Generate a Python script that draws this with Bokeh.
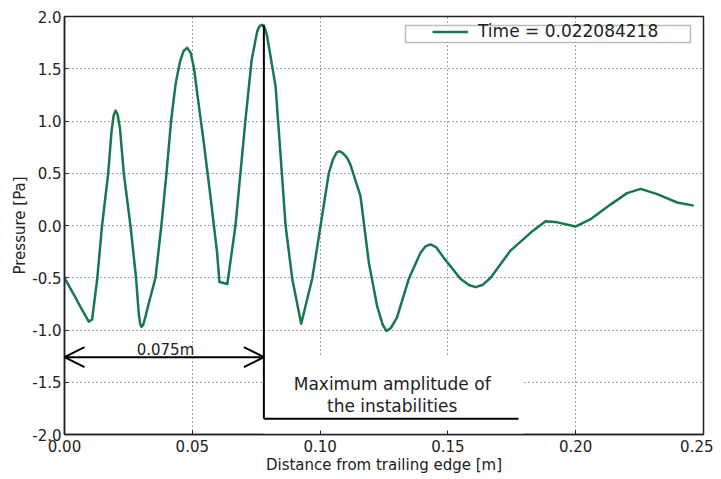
from bokeh.plotting import figure
from bokeh.models import (Range1d, FixedTicker, NumeralTickFormatter,
                          Arrow, OpenHead, Legend, LegendItem, BoxAnnotation)
from bokeh.core.properties import value
from bokeh.embed import file_html
from bokeh.resources import INLINE

# ---- data ----
distance = [0.0, 0.0043, 0.0074, 0.0095, 0.0108, 0.0128, 0.0147, 0.0171, 0.0184,
            0.0192, 0.0200, 0.0208, 0.0217, 0.0232, 0.0258, 0.0280, 0.0290, 0.0296,
            0.0301, 0.0308, 0.0316, 0.0326, 0.0356, 0.0379, 0.0399, 0.0417, 0.0435,
            0.0452, 0.0466, 0.0480, 0.0494, 0.0507, 0.0519, 0.0545, 0.0571, 0.0597,
            0.0606, 0.0637, 0.0669, 0.0708, 0.0732, 0.0754, 0.0764, 0.0773, 0.0784,
            0.0792, 0.0826, 0.0865, 0.0891, 0.0926, 0.0969, 0.1002, 0.1034, 0.1050,
            0.1065, 0.1077, 0.1090, 0.1105, 0.1119, 0.1158, 0.1191, 0.1223, 0.1245,
            0.1260, 0.1277, 0.1301, 0.1347, 0.1393, 0.1412, 0.1432, 0.1455, 0.1484,
            0.1549, 0.1582, 0.1608, 0.1635, 0.1667, 0.1745, 0.1823, 0.1882, 0.1928,
            0.1999, 0.2058, 0.2136, 0.2201, 0.2254, 0.2319, 0.2397, 0.2462]
pressure = [-0.50, -0.69, -0.83, -0.92, -0.90, -0.51, 0.00, 0.50, 0.90,
            1.05, 1.10, 1.06, 0.93, 0.50, 0.00, -0.50, -0.83, -0.94,
            -0.97, -0.95, -0.88, -0.78, -0.50, 0.00, 0.50, 1.00, 1.36,
            1.57, 1.67, 1.70, 1.65, 1.50, 1.27, 0.79, 0.28, -0.26,
            -0.54, -0.56, 0.00, 1.01, 1.58, 1.86, 1.91, 1.92, 1.89,
            1.82, 1.33, 0.00, -0.51, -0.94, -0.51, 0.00, 0.50, 0.63,
            0.70, 0.71, 0.69, 0.65, 0.58, 0.28, -0.36, -0.77, -0.95,
            -1.01, -0.98, -0.88, -0.51, -0.26, -0.20, -0.18, -0.21, -0.31,
            -0.51, -0.57, -0.59, -0.57, -0.50, -0.24, -0.07, 0.04, 0.03,
            -0.01, 0.06, 0.20, 0.31, 0.35, 0.30, 0.22, 0.19]
legend_label = "Time = 0.022084218"
x_ticks = [0.0, 0.05, 0.10, 0.15, 0.20, 0.25]
y_ticks = [-2.0, -1.5, -1.0, -0.5, 0.0, 0.5, 1.0, 1.5, 2.0]

# annotation values
span_x = 0.078           # position of the maximum
span_label = "0.075m"
arrow_y = -1.26
box_y = -1.85
box_right = 0.1776
note_lines = ["Maximum amplitude of", "the instabilities"]

FONT = "DejaVu Sans"
GREEN = "#17784c"
TXT = "#222222"

p = figure(width=713, height=476, output_backend="svg", toolbar_location=None,
           x_range=Range1d(0, 0.25), y_range=Range1d(-2.0, 2.0),
           min_border_left=64, min_border_right=10, min_border_top=16,
           min_border_bottom=40, background_fill_color="white",
           border_fill_color="white", outline_line_color="#222222",
           outline_line_width=1.5)

for ax in (p.xaxis[0], p.yaxis[0]):
    ax.major_tick_in = 4
    ax.major_tick_out = 0
    ax.minor_tick_in = 0
    ax.minor_tick_out = 0
    ax.axis_line_color = "#222222"
    ax.axis_line_width = 1.5
    ax.major_tick_line_color = "#222222"
    ax.major_label_text_font = FONT
    ax.major_label_text_font_size = "15px"
    ax.major_label_text_color = TXT
    ax.axis_label_text_font = FONT
    ax.axis_label_text_font_size = "15px"
    ax.axis_label_text_font_style = "normal"
    ax.axis_label_text_color = TXT

p.xaxis.ticker = FixedTicker(ticks=x_ticks)
p.yaxis.ticker = FixedTicker(ticks=y_ticks)
p.xaxis.formatter = NumeralTickFormatter(format="0.00")
p.yaxis.formatter = NumeralTickFormatter(format="0.0")
p.xaxis.axis_label = "Distance from trailing edge [m]"
p.yaxis.axis_label = "Pressure [Pa]"
p.xaxis.major_label_standoff = 5
p.xaxis.axis_label_standoff = 1
p.yaxis.major_label_standoff = 3
p.yaxis.axis_label_standoff = 0

p.xgrid.ticker = FixedTicker(ticks=x_ticks)
p.ygrid.ticker = FixedTicker(ticks=y_ticks)
for g in (p.xgrid[0], p.ygrid[0]):
    g.grid_line_color = "#444444"
    g.grid_line_dash = "1 3"
    g.grid_line_width = 1

# white area behind the note (hides grid there)
p.quad(left=[span_x], right=[box_right + 0.002], bottom=[-2.0], top=[-1.255],
       fill_color="white", line_color=None)

curve = p.line(distance, pressure, line_color=GREEN, line_width=2.5,
               line_join="round")

# vertical and horizontal marker lines
p.line([span_x, span_x], [1.92, box_y], line_color="black", line_width=2)
p.line([span_x, box_right], [box_y, box_y], line_color="black", line_width=2)

p.add_layout(Arrow(start=OpenHead(size=20, line_width=2, line_color="black"),
                   end=OpenHead(size=20, line_width=2, line_color="black"),
                   x_start=0.0, y_start=arrow_y, x_end=span_x, y_end=arrow_y,
                   line_width=2, line_color="black"))

p.text(x=[0.0395], y=[-1.19], text=[span_label], text_font=value(FONT),
       text_font_size="15px", text_align="center", text_baseline="alphabetic",
       text_color=TXT)
p.text(x=[0.1282, 0.1282], y=[-1.515, -1.723], text=note_lines,
       text_font=value(FONT), text_font_size="17px", text_align="center",
       text_baseline="alphabetic", text_color=TXT)

# legend frame
p.add_layout(BoxAnnotation(left=0.1334, right=0.2449, bottom=1.752, top=1.914,
                           fill_color="white", fill_alpha=1.0,
                           line_color="#222222", line_width=1.5))
legend = Legend(items=[LegendItem(label=legend_label, renderers=[curve])],
                location=(368, 393), padding=0, margin=0, spacing=0,
                glyph_width=36, glyph_height=17, label_height=17,
                label_standoff=10, label_text_font=FONT,
                label_text_font_size="17px", label_text_color=TXT,
                border_line_alpha=0, background_fill_alpha=0)
p.add_layout(legend)

open("out.html", "w").write(file_html(p, INLINE))
